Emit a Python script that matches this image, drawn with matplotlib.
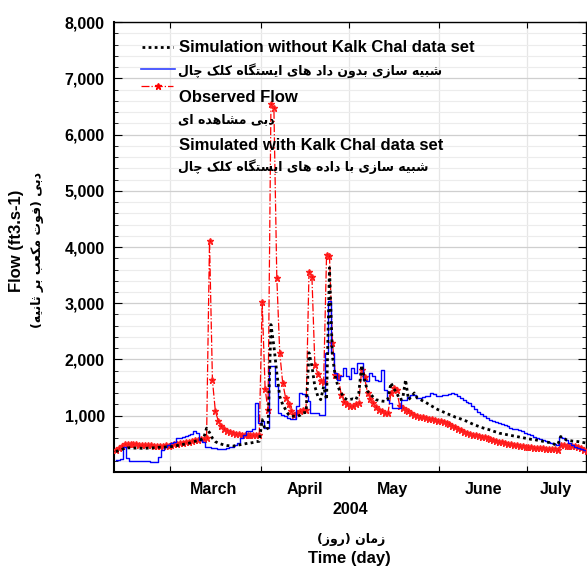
import pandas as pd
import numpy as np
import matplotlib
matplotlib.use("Agg")
import matplotlib.pyplot as plt
import matplotlib.dates as mdates
from matplotlib.ticker import MultipleLocator, FuncFormatter

# daily series, 11 Feb - 21 Jul 2004 (ft3/s)
start_day = "2004-02-11 12:00"

observed = [
    # Feb 11-29
    390, 420, 460, 490, 500, 495, 490, 490, 485, 480,
    480, 475, 480, 470, 470, 465, 470, 475, 470,
    # Mar
    480, 490, 500, 510, 520, 530, 540, 550, 560, 570,
    580, 590, 610, 4110, 1630, 1080, 910, 820, 760, 730,
    710, 690, 680, 670, 660, 660, 655, 650, 650, 655, 660,
    # Apr
    3020, 1480, 1100, 6550, 6480, 3450, 2120, 1590, 1320, 1200,
    1080, 1020, 1050, 1080, 1100, 1100, 3560, 3470, 1910, 1750,
    1610, 1600, 3860, 3840, 2300, 1730, 1700, 1375, 1250, 1200,
    # May
    1170, 1170, 1200, 1230, 1820, 1680, 1400, 1300, 1230, 1150,
    1110, 1080, 1050, 1050, 1400, 1500, 1450, 1170, 1140, 1110,
    1080, 1050, 1020, 990, 980, 970, 955, 945, 935, 930, 915,
    # Jun
    900, 885, 870, 850, 825, 800, 770, 740, 710, 690,
    675, 660, 650, 640, 630, 615, 600, 585, 570, 555,
    540, 525, 515, 505, 495, 485, 475, 465, 455, 450,
    # Jul 1-21
    445, 440, 435, 430, 425, 420, 415, 410, 405, 400,
    395, 480, 475, 470, 465, 460, 455, 440, 420, 395, 370,
]

sim_without = [
    363, 380, 400, 423, 430, 430, 425, 425, 425, 420,
    420, 425, 430, 430, 435, 440, 440, 445, 450,
    452, 460, 470, 480, 490, 500, 512, 530, 545, 560,
    575, 600, 780, 700, 600, 540, 512, 495, 480, 470,
    465, 460, 470, 480, 490, 500, 510, 515, 525, 540, 545,
    930, 750, 780, 2620, 2240, 1760, 1345, 1200, 1110, 1020,
    1000, 990, 990, 1010, 1050, 1060, 2120, 1880, 1520, 1350,
    1285, 1520, 1285, 3630, 2060, 1700, 1500, 1405, 1320, 1285,
    1290, 1300, 1285, 1400, 1900, 1640, 1435, 1380, 1330, 1285,
    1270, 1260, 1255, 1300, 1585, 1480, 1405, 1285, 1300, 1640,
    1285, 1340, 1405, 1315, 1290, 1260, 1235, 1200, 1170, 1140, 1110,
    1090, 1065, 1040, 1020, 1000, 975, 960, 940, 920, 900,
    875, 850, 830, 810, 790, 775, 760, 745, 725, 710,
    690, 680, 670, 660, 650, 640, 630, 620, 610, 600,
    590, 580, 575, 565, 555, 545, 535, 525, 515, 490,
    482, 630, 600, 570, 560, 550, 545, 540, 530, 520, 512,
]

sim_with = [
    214, 214, 230, 440, 250, 195, 190, 190, 190, 190,
    190, 190, 185, 185, 185, 273, 393, 440, 482,
    520, 540, 600, 600, 620, 640, 660, 680, 720, 700,
    570, 540, 452, 440, 430, 423, 405, 405, 410, 423,
    440, 452, 482, 512, 600, 660, 720, 720, 760, 1225, 870,
    900, 780, 780, 1880, 1880, 1520, 1050, 1020, 990, 960,
    940, 940, 1170, 1405, 1380, 1345, 1255, 1050, 1050, 1050,
    1020, 1020, 2120, 3040, 2120, 1760, 1640, 1700, 1850, 1700,
    1650, 1850, 1760, 1940, 1940, 1640, 1610, 1760, 1700, 1640,
    1610, 1820, 1465, 1285, 1225, 1140, 1140, 1140, 1285, 1285,
    1330, 1375, 1375, 1315, 1315, 1330, 1345, 1345, 1405, 1380, 1345,
    1345, 1360, 1375, 1390, 1405, 1380, 1345, 1315, 1285, 1250,
    1225, 1170, 1120, 1075, 1030, 990, 960, 930, 900, 880,
    870, 850, 830, 810, 790, 770, 760, 740, 720, 700,
    680, 660, 630, 610, 590, 570, 545, 530, 510, 490,
    482, 630, 600, 560, 512, 480, 440, 423, 400, 393, 333,
]

month_names = ["March", "April", "May", "June", "July"]
month_label_days = ["2004-03-16", "2004-04-16", "2004-05-16", "2004-06-16", "2004-07-11"]
y_ticks = [1000, 2000, 3000, 4000, 5000, 6000, 7000, 8000]

dates = pd.date_range(start_day, periods=len(observed), freq="D")

# Persian letters -> contextual presentation forms (isol, fina[, init, medi])
FORMS = {
    "\u0627": ("\uFE8D", "\uFE8E"),
    "\u062F": ("\uFEA9", "\uFEAA"),
    "\u0631": ("\uFEAD", "\uFEAE"),
    "\u0632": ("\uFEAF", "\uFEB0"),
    "\u0648": ("\uFEED", "\uFEEE"),
    "\u0628": ("\uFE8F", "\uFE90", "\uFE91", "\uFE92"),
    "\u062A": ("\uFE95", "\uFE96", "\uFE97", "\uFE98"),
    "\u062B": ("\uFE99", "\uFE9A", "\uFE9B", "\uFE9C"),
    "\u0633": ("\uFEB1", "\uFEB2", "\uFEB3", "\uFEB4"),
    "\u0634": ("\uFEB5", "\uFEB6", "\uFEB7", "\uFEB8"),
    "\u0639": ("\uFEC9", "\uFECA", "\uFECB", "\uFECC"),
    "\u0641": ("\uFED1", "\uFED2", "\uFED3", "\uFED4"),
    "\u0644": ("\uFEDD", "\uFEDE", "\uFEDF", "\uFEE0"),
    "\u0645": ("\uFEE1", "\uFEE2", "\uFEE3", "\uFEE4"),
    "\u0646": ("\uFEE5", "\uFEE6", "\uFEE7", "\uFEE8"),
    "\u0647": ("\uFEE9", "\uFEEA", "\uFEEB", "\uFEEC"),
    "\u06CC": ("\uFBFC", "\uFBFD", "\uFBFE", "\uFBFF"),
    "\u06A9": ("\uFB8E", "\uFB8F", "\uFB90", "\uFB91"),
    "\u06AF": ("\uFB92", "\uFB93", "\uFB94", "\uFB95"),
    "\u0686": ("\uFB7A", "\uFB7B", "\uFB7C", "\uFB7D"),
}


def fa(text):
    out = []
    for i, c in enumerate(text):
        f = FORMS.get(c)
        if f is None:
            out.append(c)
            continue
        prev = text[i - 1] if i > 0 else ""
        nxt = text[i + 1] if i + 1 < len(text) else ""
        jp = prev in FORMS and len(FORMS[prev]) == 4
        jn = len(f) == 4 and nxt in FORMS
        if jp and jn:
            out.append(f[3])
        elif jp:
            out.append(f[1])
        elif jn:
            out.append(f[2])
        else:
            out.append(f[0])
    return "".join(reversed(out)).translate(str.maketrans("()", ")("))


EN = "Liberation Sans"
FA = ["DejaVu Sans"]
FA_SIZE = 9

fig = plt.figure(figsize=(5.87, 5.69), dpi=100)
ax = fig.add_axes([0.1949, 0.1705, 0.8026, 0.7908])

ax.plot(dates, observed, color="#ff0000", lw=0.9, ls="-.", marker="*", ms=5,
        mec="#ff2020", zorder=3)
ax.step(dates, sim_with, where="mid", color="#0000ff", lw=1.0, zorder=4)
ax.plot(dates, sim_without, color="black", lw=2.0, ls=(0, (1, 1.2)), zorder=5)

ax.set_xlim(pd.Timestamp("2004-02-11"), pd.Timestamp("2004-07-21"))
ax.set_ylim(0, 8000)

ax.xaxis.set_major_locator(mdates.MonthLocator())
ax.xaxis.set_major_formatter(plt.NullFormatter())
ax.set_xticks([mdates.date2num(pd.Timestamp(d)) for d in month_label_days],
              month_names, minor=True)
ax.set_yticks(y_ticks)
ax.yaxis.set_minor_locator(MultipleLocator(200))
ax.yaxis.set_major_formatter(FuncFormatter(lambda v, p: f"{v:,.0f}"))

for lab in ax.get_xticklabels(minor=True) + ax.get_yticklabels():
    lab.set_fontfamily(EN)
    lab.set_fontweight("bold")
    lab.set_fontsize(11.5)

ax.tick_params(axis="x", which="minor", length=0, pad=7)
ax.tick_params(axis="x", which="major", direction="in", length=4, top=True)
ax.tick_params(axis="y", which="major", direction="in", length=6, right=True, pad=7)
ax.tick_params(axis="y", which="minor", direction="in", length=3, right=True)

ax.grid(True, axis="y", which="major", color="#cfcfcf", lw=0.9)
ax.grid(True, axis="y", which="minor", color="#ececec", lw=0.8)
ax.grid(True, axis="x", which="major", color="#e6e6e6", lw=0.9)
ax.set_axisbelow(True)

for side in ["left", "bottom"]:
    ax.spines[side].set_linewidth(1.5)
for side in ["top", "right"]:
    ax.spines[side].set_linewidth(1.0)


# legend block drawn in axes fraction
def fx(px):
    return (px - 114.4) / 471.1


def fy(py):
    return (472 - py) / 450.0


ax.plot([fx(142), fx(173)], [fy(47), fy(47)], transform=ax.transAxes,
        color="black", lw=2.0, ls=(0, (1, 1.2)), clip_on=False)
ax.plot([fx(141), fx(175)], [fy(69), fy(69)], transform=ax.transAxes,
        color="#3040ff", lw=1.2, clip_on=False)
ax.plot([fx(141), fx(173)], [fy(86), fy(86)], transform=ax.transAxes,
        color="#ff0000", lw=0.9, ls="-.", clip_on=False)
ax.plot([fx(158)], [fy(86)], transform=ax.transAxes, color="#ff0000",
        marker="*", ms=5, clip_on=False)

legend_en = [
    ("Simulation without Kalk Chal data set", 47),
    ("Observed Flow", 97),
    ("Simulated with Kalk Chal data set", 145),
]
legend_fa = [
    ("شبیه سازی بدون داد های ایستگاه کلک چال", 71),
    ("دبی مشاهده ای", 120),
    ("شبیه سازی با داده های ایستگاه کلک چال", 167),
]
for txt, py in legend_en:
    ax.text(fx(179), fy(py), txt, transform=ax.transAxes, family=EN,
            weight="bold", fontsize=12, va="center", ha="left", zorder=6)
for txt, py in legend_fa:
    ax.text(fx(178), fy(py), fa(txt), transform=ax.transAxes, family=FA,
            weight="bold", fontsize=FA_SIZE, va="center", ha="left", zorder=6)

# axis titles
W, H = 587.0, 569.0
fig.text(350 / W, 1 - 509 / H, "2004", family=EN, weight="bold", fontsize=11.5,
         ha="center", va="center")
fig.text(351 / W, 1 - 540 / H, fa("زمان (روز)"), family=FA, weight="bold",
         fontsize=FA_SIZE, ha="center", va="center")
fig.text(349 / W, 1 - 559 / H, "Time (day)", family=EN, weight="bold",
         fontsize=12, ha="center", va="center")
fig.text(17 / W, 1 - 241 / H, "Flow (ft3.s-1)", family=EN, weight="bold",
         fontsize=12, rotation=90, ha="center", va="center")
fig.text(38 / W, 1 - 250 / H, fa("دبی (فوت مکعب بر ثانیه)"), family=FA,
         weight="bold", fontsize=FA_SIZE, rotation=90, ha="center", va="center")

fig.savefig("out.png", dpi=100)
